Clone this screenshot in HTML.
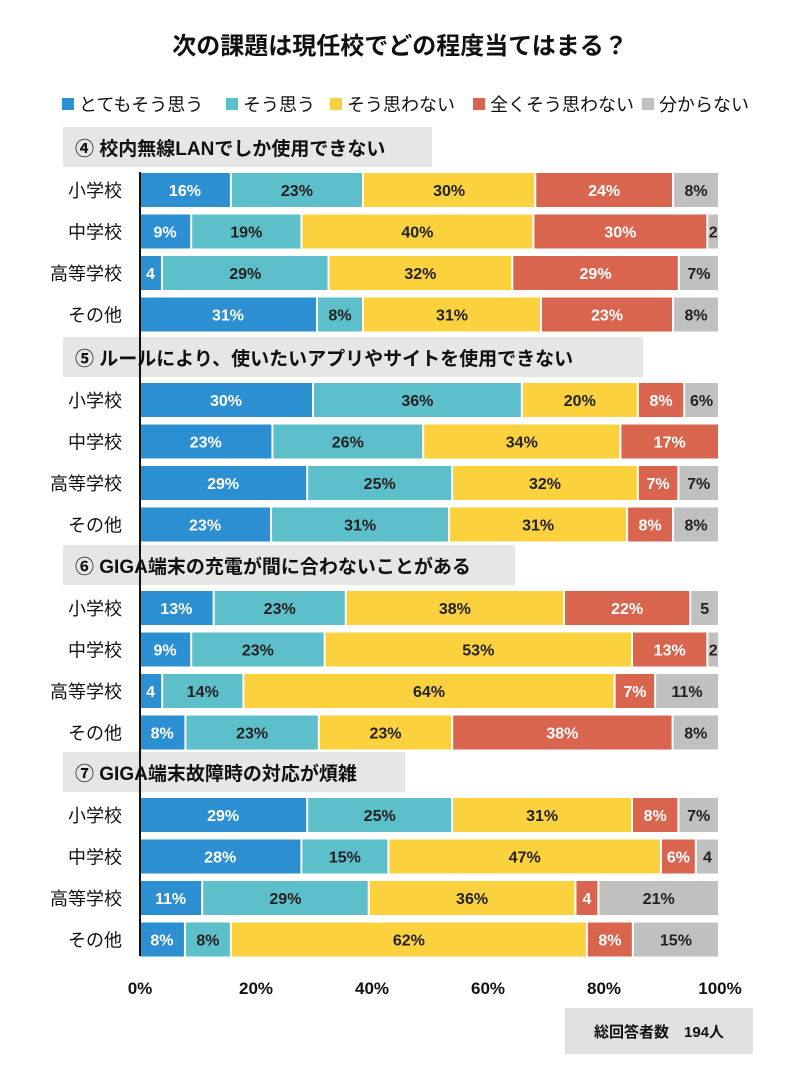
<!DOCTYPE html>
<html><head><meta charset="utf-8"><style>
body{margin:0;background:#fff;font-family:"Liberation Sans","Noto Sans CJK JP",sans-serif;}
#root{position:relative;width:800px;height:1070px;overflow:hidden;}
</style></head><body>
<div id="root">
<svg id="svg" width="800" height="1070" xmlns="http://www.w3.org/2000/svg" style="font-family:'Liberation Sans','Noto Sans CJK JP',sans-serif"></svg>
</div>
<script>
const sectionTitles=["④ 校内無線LANでしか使用できない","⑤ ルールにより、使いたいアプリやサイトを使用できない","⑥ GIGA端末の充電が間に合わないことがある","⑦ GIGA端末故障時の対応が煩雑"];
const categories=["小学校","中学校","高等学校","その他"];
const seriesNames=["とてもそう思う","そう思う","そう思わない","全くそう思わない","分からない"];
const s4=[[16,23,30,24,8],[9,19,40,30,2],[4,29,32,29,7],[31,8,31,23,8]];
const s5=[[30,36,20,8,6],[23,26,34,17,0],[29,25,32,7,7],[23,31,31,8,8]];
const s6=[[13,23,38,22,5],[9,23,53,13,2],[4,14,64,7,11],[8,23,23,38,8]];
const s7=[[29,25,31,8,7],[28,15,47,6,4],[11,29,36,4,21],[8,8,62,8,15]];
const sections=[s4,s5,s6,s7];
const ticks=[0,20,40,60,80,100];
const colors=["#2b8fd1","#5dbfc9","#fcd13e","#d9654f","#c0c0c0"];
const textColors=["#fff","#222","#222","#fff","#222"];
const headerTop=[127,337,545,752], headerW=[369,580,452,342];
const svg=document.getElementById('svg');
const NS="http://www.w3.org/2000/svg";
const x0=140,x1=720;
const xs=v=>x0+(x1-x0)*v/100;
function el(t,a,txt){const e=document.createElementNS(NS,t);for(const k in a)e.setAttribute(k,a[k]);if(txt!=null)e.textContent=txt;svg.appendChild(e);return e;}
let t=el('text',{x:400,y:54,'text-anchor':'middle','font-size':24,'font-weight':'bold',fill:'#111'},"次の課題は現任校でどの程度当てはまる？");

const legX=[62,226,330,473,642];
seriesNames.forEach((n,i)=>{
 let r=el('rect',{x:legX[i],y:98,width:12,height:12,fill:colors[i]});
 
 let tx=el('text',{x:legX[i]+17,y:111,'font-size':18,fill:'#111'},n);
 
});
sections.forEach((sec,si)=>{
 const hy=headerTop[si];
 let h=el('rect',{x:63,y:hy,width:headerW[si],height:40,fill:'#e6e6e6'});
 
 let ht=el('text',{x:75,y:hy+28,'font-size':19,'font-weight':'bold',fill:'#111'},sectionTitles[si]);
 
 sec.forEach((row,ri)=>{
  const cy=hy+63+ri*41.5;
  let c=el('text',{x:122,y:cy+7,'text-anchor':'end','font-size':18,fill:'#111'},categories[ri]);
  
  const tot=row.reduce((a,b)=>a+b,0);let acc=0;
  row.forEach((v,k)=>{
   if(v<=0)return;
   const a=xs(acc/tot*100),b=xs((acc+v)/tot*100);acc+=v;
   let r=el('rect',{x:a,y:cy-17,width:Math.max(0,b-a-2),height:34,fill:colors[k]});
   
   let lt=el('text',{x:(a+b-2)/2,y:cy+6,'text-anchor':'middle','font-size':16,'font-weight':'bold',fill:textColors[k]},v<6?String(v):v+'%');
   
  });
 });
});
let ax=el('line',{x1:x0,y1:172,x2:x0,y2:956,stroke:'#111','stroke-width':2});

ticks.forEach(v=>{
 let tt=el('text',{x:xs(v),y:994,'text-anchor':'middle','font-size':17,'font-weight':'bold',fill:'#111'},v+'%');
 
});
let nb=el('rect',{x:565,y:1008,width:188,height:46,fill:'#e0e0e0'});

let nt=el('text',{x:659,y:1037,'text-anchor':'middle','font-size':15,'font-weight':'bold',fill:'#111'},"総回答者数　194人");

</script>
</body></html>
